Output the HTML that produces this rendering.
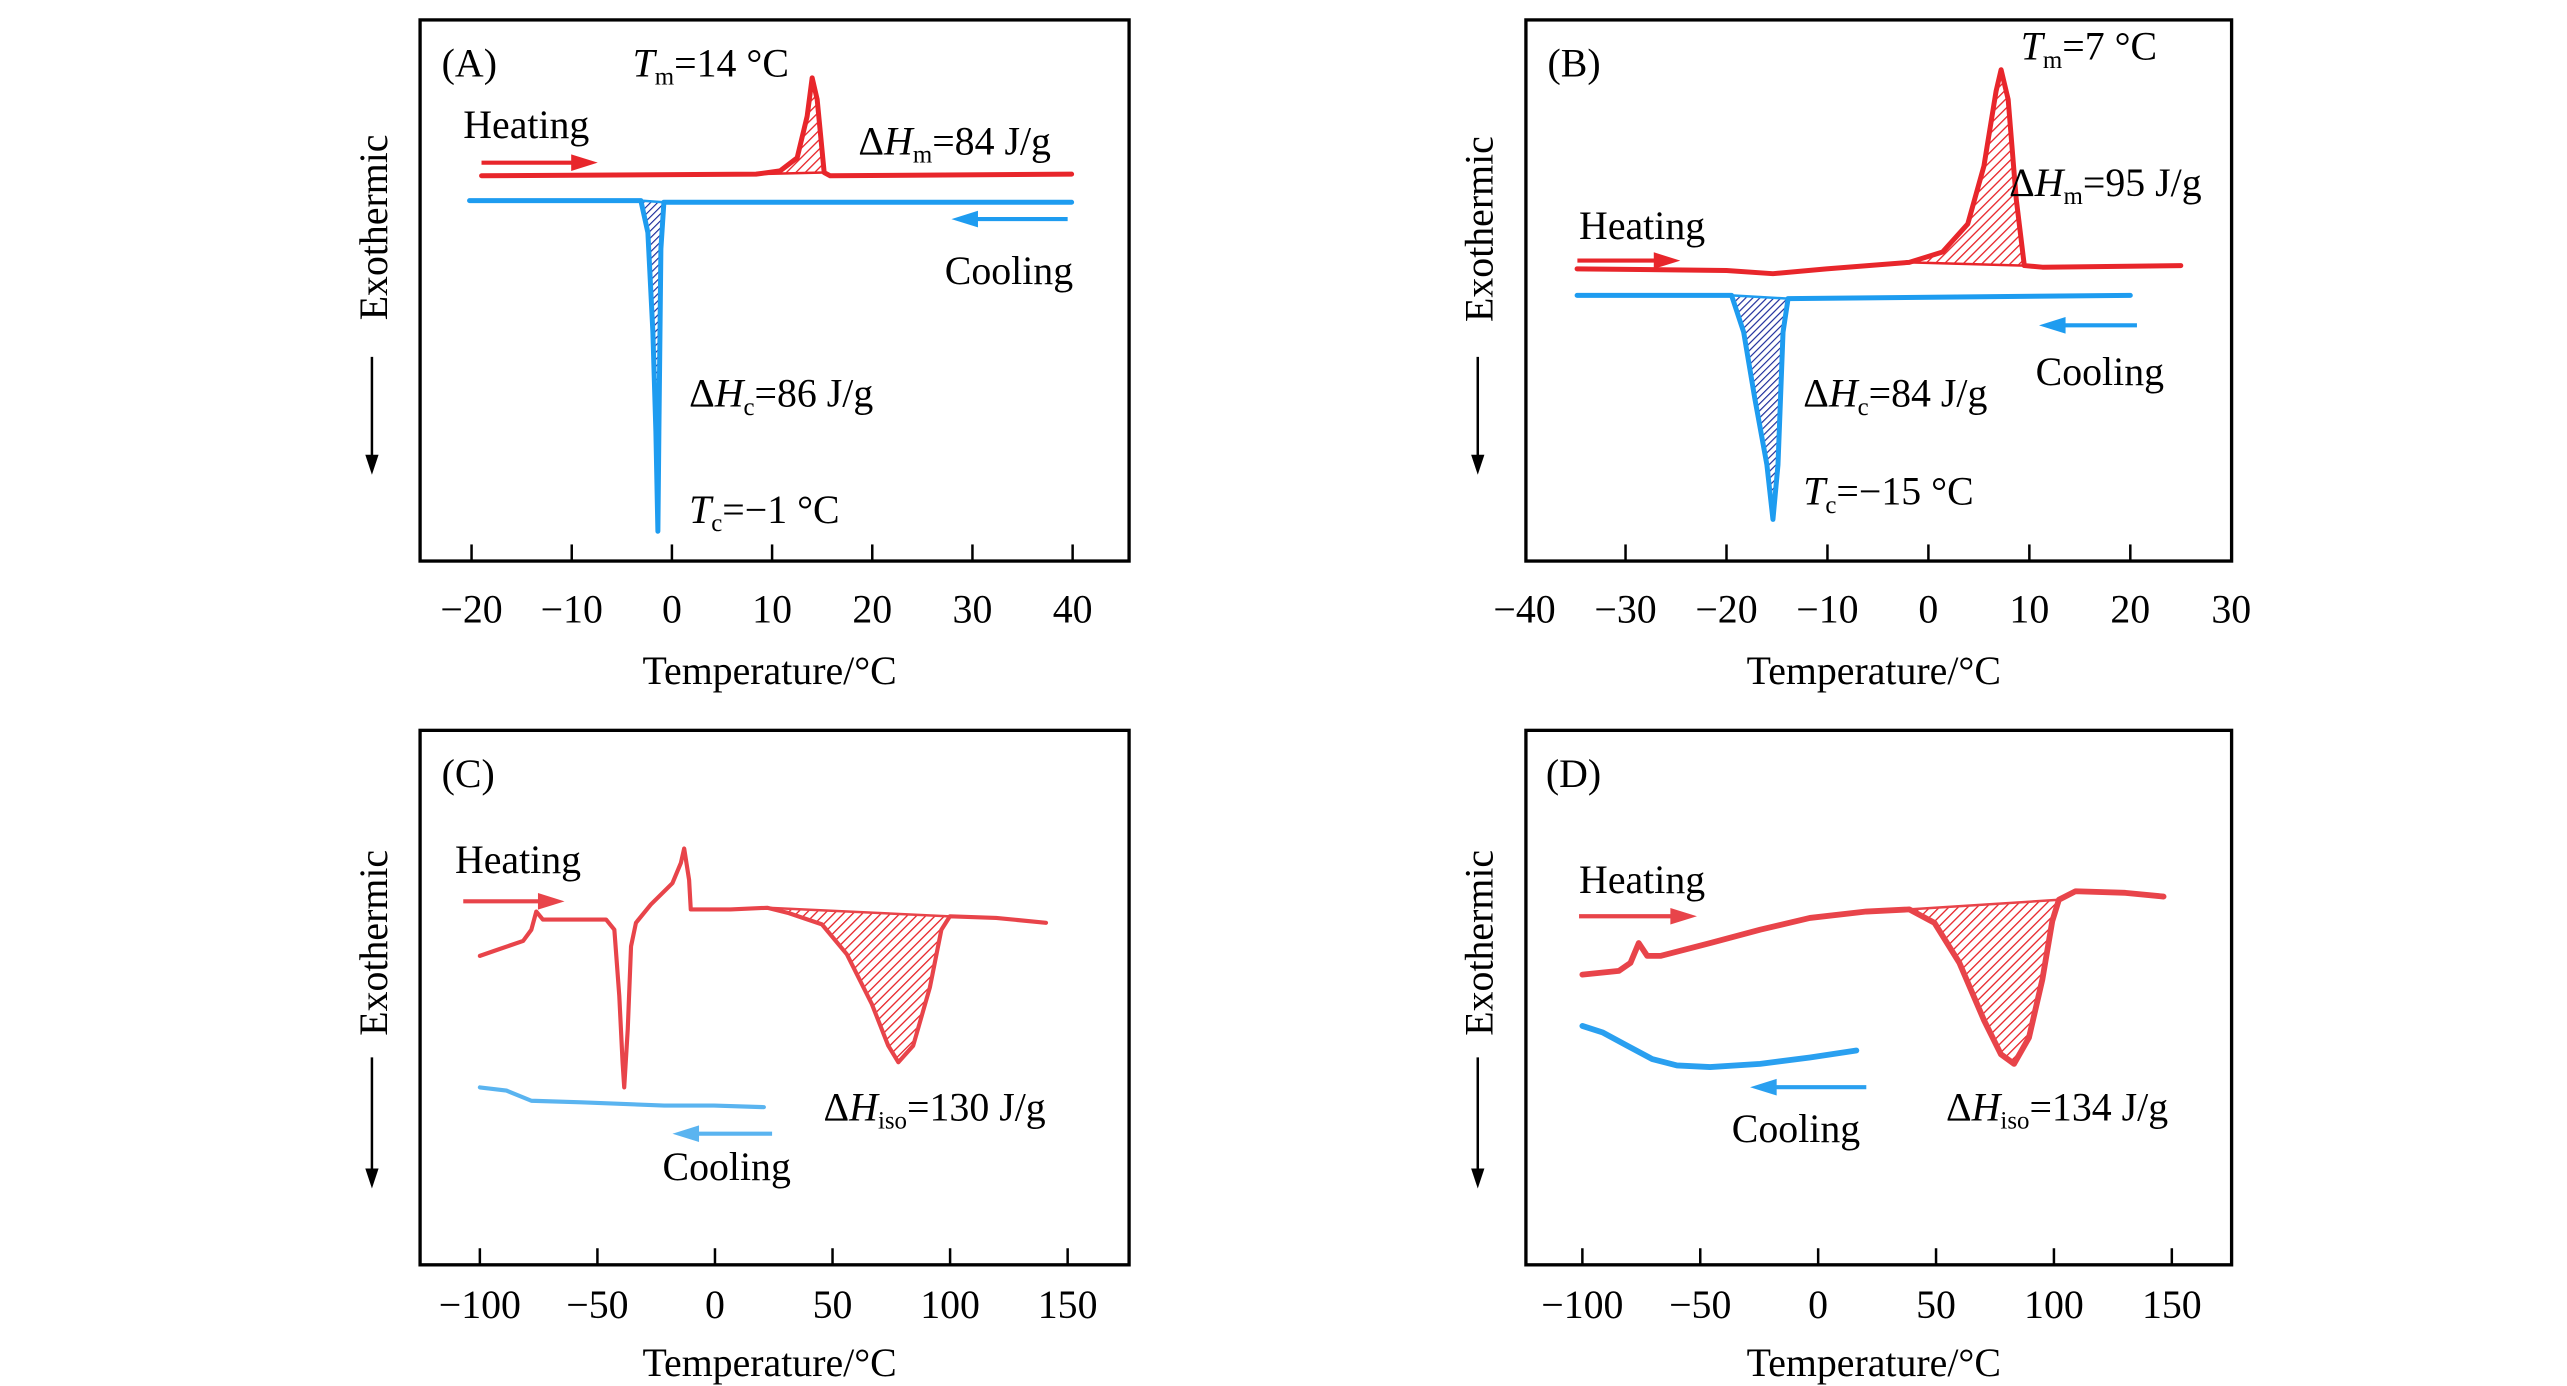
<!DOCTYPE html>
<html><head><meta charset="utf-8"><style>
html,body{margin:0;padding:0;background:#fff;}
svg{display:block;font-family:"Liberation Serif",serif;}
</style></head><body>
<svg id="fig" width="2567" height="1386" viewBox="0 0 1546 835" preserveAspectRatio="none" xmlns="http://www.w3.org/2000/svg">
<defs>
<pattern id="hatchRed" patternUnits="userSpaceOnUse" width="4" height="4" patternTransform="rotate(45)"><rect width="4" height="4" fill="#fff"/><line x1="0" y1="0" x2="0" y2="4" stroke="#e8262b" stroke-width="1.6"/></pattern>
<pattern id="hatchBlue" patternUnits="userSpaceOnUse" width="3" height="3" patternTransform="rotate(45)"><rect width="3" height="3" fill="#fff"/><line x1="0" y1="0" x2="0" y2="3" stroke="#1a2a9a" stroke-width="1.4"/></pattern>
</defs>
<g id="root"></g>
</svg>
<script>
// Panel A data: [temperature °C, signal (arb.)]
const aHeat=[[-19,71.2],[8.4,71.5],[10.8,72.1],[12.5,74.5],[13.5,82.2],[14,89.3],[14.5,85.3],[15.2,71.8],[15.8,71.2],[39.9,71.5]];
const aCool=[[-20.2,66.6],[-3.1,66.6],[-2.4,60.7],[-1.9,42.3],[-1.6,23.9],[-1.4,5.5],[-1.3,23.9],[-1.1,57.7],[-0.8,66.3],[39.9,66.3]];
// Panel B
const bHeat=[[-34.8,54],[-20,53.7],[-15.4,53.1],[-10.1,54],[-1.9,55.2],[1.4,57.1],[3.9,62.3],[5.5,73],[6.7,86.8],[7.2,90.8],[7.9,85.3],[8.7,66.9],[9.5,54.6],[11.3,54.3],[25,54.6]];
const bCool=[[-34.8,49.1],[-19.5,49.1],[-18.3,42.3],[-17.2,30.1],[-16,17.8],[-15.4,7.7],[-14.9,17.8],[-14.4,42.3],[-13.9,48.5],[20,49.1]];
// Panel C
const cHeat=[[-100,57.8],[-92.2,59],[-81.6,60.6],[-78.1,62.7],[-76,66.1],[-73.2,64.6],[-46.3,64.6],[-42.8,62.7],[-40.7,50.3],[-39.3,37.9],[-38.6,33.2],[-37.1,44.1],[-35.7,59.6],[-33.6,64],[-27.3,67.4],[-18.1,71.4],[-14.5,75.2],[-13.1,77.9],[-11,72],[-10.3,66.5],[6.6,66.5],[22.2,66.8],[31.4,65.8],[45.5,63.7],[56.1,58.1],[66.7,48.8],[73.7,41],[78,37.9],[84.3,41],[91.4,51.9],[96.3,62.7],[99.9,65.2],[119.6,64.9],[140.8,64]];
const cCool=[[-100,33.2],[-88.7,32.6],[-78.1,30.7],[-56.9,30.4],[-21.6,29.8],[-0.4,29.8],[20.8,29.5]];
// Panel D
const dHeat=[[-100,54.3],[-84.5,55],[-79.6,56.5],[-76.1,60.2],[-72.5,57.8],[-66.9,57.8],[-45.8,60.2],[-24.6,62.7],[-3.5,64.9],[20.4,66.1],[38.7,66.5],[49.3,64],[59.9,56.5],[70.4,45.7],[77.5,39.4],[83.1,37.6],[89.4,42.5],[95.1,53.4],[99.3,64.3],[102.1,68.3],[109.2,69.9],[130.3,69.6],[146.5,68.9]];
const dCool=[[-100,44.7],[-91.5,43.5],[-81,41],[-70.4,38.5],[-59.9,37.3],[-45.8,37],[-24.6,37.6],[-3.5,38.8],[16.2,40.1]];
// Hatched ranges [T start, T end]
const aHeatHatch=[8.4,15.2], aCoolHatch=[-3.1,-0.8];
const bHeatHatch=[-1.9,9.5], bCoolHatch=[-19.5,-13.9];
const cHeatHatch=[22.2,99.9], dHeatHatch=[38.7,102.1];
// Tick labels
const ticksA=[-20,-10,0,10,20,30,40];
const ticksB=[-40,-30,-20,-10,0,10,20,30];
const ticksCD=[-100,-50,0,50,100,150];

const NS='http://www.w3.org/2000/svg';
const root=document.getElementById('root');
function mk(tag,attrs,parent){const e=document.createElementNS(NS,tag);for(const k in attrs)e.setAttribute(k,attrs[k]);(parent||root).appendChild(e);return e;}
function fmt(v){return v<0?'\u2212'+(-v):String(v);}

function panel(cfg){
  const g=mk('g',{});
  
  
  const [L,T,R,B]=cfg.box;
  const x=v=>cfg.x0+(v-cfg.d0)*(cfg.x1-cfg.x0)/(cfg.d1-cfg.d0);
  const y=s=>B-s*(B-T)/100;
  const pts=arr=>arr.map(p=>x(p[0]).toFixed(2)+','+y(p[1]).toFixed(2)).join(' ');
  const box=mk('rect',{x:L,y:T,width:R-L,height:B-T,fill:'none',stroke:'#000','stroke-width':2},g);
  
  
  cfg.ticks.forEach(t=>{
    if(t>cfg.tmin-0.01&&t<cfg.tmax+0.01){
      const tk=mk('line',{x1:x(t),x2:x(t),y1:B,y2:B-10,stroke:'#000','stroke-width':1.5},g);
      
      
    }
    const lb=mk('text',{x:x(t),y:cfg.labY,'text-anchor':'middle','font-size':24},g);
    
    
    lb.textContent=fmt(t);
  });
  const xt=mk('text',{x:(L+R)/2-3,y:cfg.titleY,'text-anchor':'middle','font-size':24},g);
  
  
  xt.textContent='Temperature/\u00B0C';
  const yt=mk('text',{x:0,y:0,'text-anchor':'middle','font-size':24,transform:`translate(${L-20},${cfg.exoY}) rotate(-90)`},g);
  
  
  yt.textContent='Exothermic';
  const ya=mk('line',{x1:L-29,x2:L-29,y1:cfg.arrY[0],y2:cfg.arrY[1]-8,stroke:'#000','stroke-width':1.5},g);
  
  
  const yh=mk('polygon',{points:`${L-33},${cfg.arrY[1]-12} ${L-25},${cfg.arrY[1]-12} ${L-29},${cfg.arrY[1]}`,fill:'#000'},g);
  
  
  function hatch(arr,rng,fill,name){
    const seg=arr.filter(p=>p[0]>=rng[0]-1e-6&&p[0]<=rng[1]+1e-6);
    const first=seg[0],last=seg[seg.length-1];
    const poly=mk('polygon',{points:pts(seg)+' '+x(last[0])+','+y(last[1])+' '+x(first[0])+','+y(first[1]),fill:fill,stroke:'none'},g);
    
    
    const bl=mk('line',{x1:x(first[0]),y1:y(first[1]),x2:x(last[0]),y2:y(last[1]),stroke:fill==='url(#hatchRed)'?cfg.red:cfg.blue,'stroke-width':1.5},g);
    
    
  }
  if(cfg.heatHatch)hatch(cfg.heat,cfg.heatHatch,'url(#hatchRed)','melting-area');
  if(cfg.coolHatch)hatch(cfg.cool,cfg.coolHatch,'url(#hatchBlue)','crystallization-area');
  const hl=mk('polyline',{points:pts(cfg.heat),fill:'none',stroke:cfg.red,'stroke-width':cfg.lw,'stroke-linejoin':'round','stroke-linecap':'round'},g);
  
  
  const cl=mk('polyline',{points:pts(cfg.cool),fill:'none',stroke:cfg.blue,'stroke-width':cfg.lw,'stroke-linejoin':'round','stroke-linecap':'round'},g);
  
  
  function arrow(a,color,name){
    const [x1,yy,x2]=a;const dir=x2>x1?1:-1;
    const ln=mk('line',{x1:x1,y1:yy,x2:x2-dir*14,y2:yy,stroke:color,'stroke-width':2.5},g);
    
    
    const hd=mk('polygon',{points:`${x2},${yy} ${x2-dir*16},${yy-5} ${x2-dir*16},${yy+5}`,fill:color},g);
    
    
  }
  arrow(cfg.hArrow,cfg.red,'heating-arrow');
  arrow(cfg.cArrow,cfg.blue,'cooling-arrow');
  cfg.texts.forEach(t=>{
    const te=mk('text',{x:t[0],y:t[1],'font-size':24},g);
    
    
    te.innerHTML=t[2];
  });
}
const sub=(s)=>`<tspan font-size="15" dy="5">${s}</tspan><tspan dy="-5">`;
const Tm='<tspan font-style="italic">T</tspan>'+sub('m')+'=';
const Hm='\u0394<tspan font-style="italic">H</tspan>'+sub('m')+'=';
const Hc='\u0394<tspan font-style="italic">H</tspan>'+sub('c')+'=';
const Tc='<tspan font-style="italic">T</tspan>'+sub('c')+'=';
const Hi='\u0394<tspan font-style="italic">H</tspan>'+sub('iso')+'=';

panel({name:'panel-a',box:[253,12,680,338],d0:-20,d1:40,x0:284,x1:646,tmin:-20,tmax:40,ticks:ticksA,labY:375,titleY:412,exoY:137,arrY:[215,286],
  heat:aHeat,cool:aCool,heatHatch:aHeatHatch,coolHatch:aCoolHatch,red:'#e8262b',blue:'#1e9cf0',lw:3,
  hArrow:[290,98,360],cArrow:[643,132,573],
  texts:[[266,46,'(A)','panel-label'],[381,46,Tm+'14 \u00B0C</tspan>','tm-label'],[279,83,'Heating','heating-label'],[517,93,Hm+'84 J/g</tspan>','dhm-label'],[569,171,'Cooling','cooling-label'],[415,245,Hc+'86 J/g</tspan>','dhc-label'],[415,315,Tc+'\u22121 \u00B0C</tspan>','tc-label']]});
panel({name:'panel-b',box:[919,12,1344,338],d0:-30,d1:20,x0:979,x1:1283,tmin:-30,tmax:20,ticks:ticksB,labY:375,titleY:412,exoY:138,arrY:[215,286],
  heat:bHeat,cool:bCool,heatHatch:bHeatHatch,coolHatch:bCoolHatch,red:'#e8262b',blue:'#1e9cf0',lw:3,
  hArrow:[950,157,1012],cArrow:[1287,196,1228],
  texts:[[932,46,'(B)','panel-label'],[1217,36,Tm+'7 \u00B0C</tspan>','tm-label'],[951,144,'Heating','heating-label'],[1210,118,Hm+'95 J/g</tspan>','dhm-label'],[1226,232,'Cooling','cooling-label'],[1086,245,Hc+'84 J/g</tspan>','dhc-label'],[1086,304,Tc+'\u221215 \u00B0C</tspan>','tc-label']]});
panel({name:'panel-c',box:[253,440,680,762],d0:-100,d1:150,x0:289,x1:643,tmin:-100,tmax:150,ticks:ticksCD,labY:794,titleY:829,exoY:568,arrY:[637,716],
  heat:cHeat,cool:cCool,heatHatch:cHeatHatch,coolHatch:null,red:'#e8444a',blue:'#5ab4f0',lw:2.5,
  hArrow:[279,543,340],cArrow:[465,683,405],
  texts:[[266,474,'(C)','panel-label'],[274,526,'Heating','heating-label'],[496,675,Hi+'130 J/g</tspan>','dhiso-label'],[399,711,'Cooling','cooling-label']]});
panel({name:'panel-d',box:[919,440,1344,762],d0:-100,d1:150,x0:953,x1:1308,tmin:-100,tmax:150,ticks:ticksCD,labY:794,titleY:829,exoY:568,arrY:[637,716],
  heat:dHeat,cool:dCool,heatHatch:dHeatHatch,coolHatch:null,red:'#e8444a',blue:'#2aa0f0',lw:3.5,
  hArrow:[951,552,1022],cArrow:[1124,655,1054],
  texts:[[931,474,'(D)','panel-label'],[951,538,'Heating','heating-label'],[1172,675,Hi+'134 J/g</tspan>','dhiso-label'],[1043,688,'Cooling','cooling-label']]});
</script>
</body></html>
